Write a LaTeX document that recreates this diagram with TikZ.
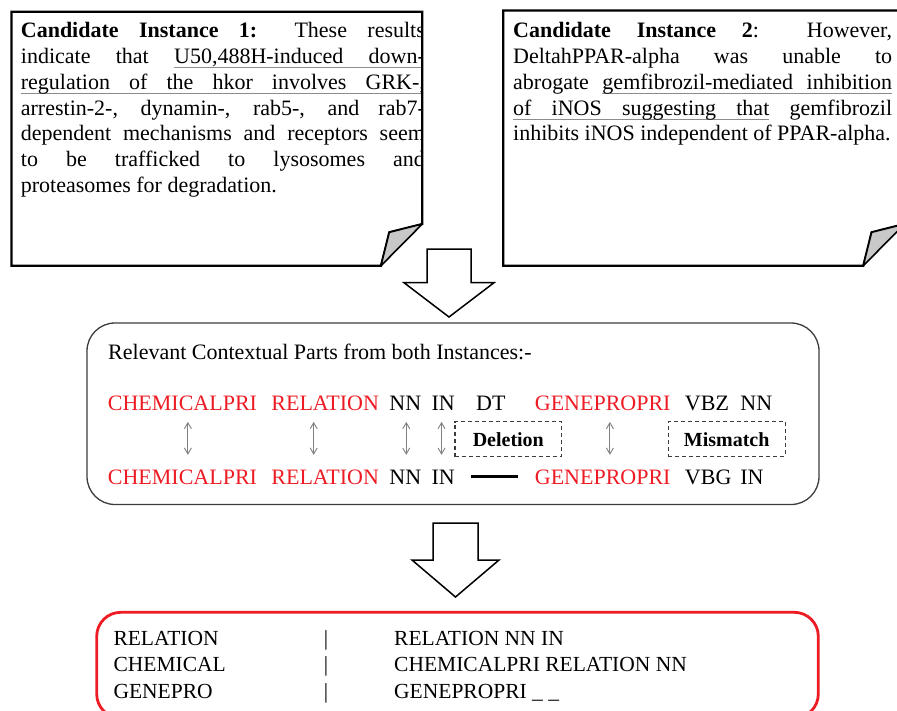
\documentclass[tikz,border=0pt]{standalone}
\usepackage{fontspec}
\setmainfont{Liberation Serif}
\usetikzlibrary{positioning, arrows.meta}

\definecolor{tagred}{RGB}{237,28,36}
\definecolor{foldgray}{RGB}{200,200,200}
\definecolor{ulgray}{RGB}{140,140,140}
\definecolor{ctxgray}{RGB}{60,60,60}

\newcommand{\notefont}{\fontsize{22}{25.9}\selectfont}
\newcommand{\tokfont}{\fontsize{22}{26}\selectfont}
\newcommand{\resfont}{\fontsize{21.5}{26.65}\selectfont}
% gray underlined word and space, one justified line of a note
\newcommand{\ulw}[1]{\setbox0=\hbox{#1}\rlap{\color{ulgray}\rule[-5pt]{\wd0}{1.2pt}}\box0\relax}
\newcommand{\ulsp}{{\color{ulgray}\leaders\hrule height -3.8pt depth 5pt\hskip\fontdimen2\font plus\fontdimen3\font minus\fontdimen4\font}}
\newcommand{\jline}[1]{\makebox[\linewidth][s]{#1}\\}

\begin{document}
\begin{tikzpicture}
        [x=1pt, y=-1pt,
            notebox/.style={draw, line width=2.2pt, line join=miter},
            foldbox/.style={draw, fill=foldgray, line width=1.6pt, line join=round},
            notetext/.style={anchor=base west, inner sep=0pt, align=justify, font=\notefont},
            ctxbox/.style={draw=ctxgray, line width=1.3pt, rounded corners=28pt, minimum width=732pt, minimum height=181.5pt, inner sep=0pt},
            resultbox/.style={draw=tagred, line width=2.8pt, rounded corners=24pt, minimum width=721.6pt, minimum height=105.7pt, inner sep=0pt},
            tok/.style={inner sep=0pt, text height=15pt, text depth=0pt, font=\tokfont},
            redtok/.style={tok, text=tagred},
            tagbox/.style={draw=ctxgray, dashed, dash pattern=on 4pt off 3pt, line width=1.1pt, minimum height=35pt, inner sep=0pt, font=\fontsize{20}{24}\selectfont\bfseries},
            pairlink/.style={{Straight Barb[length=6pt,width=7pt]}-{Straight Barb[length=6pt,width=7pt]}, draw=gray, line width=0.9pt, shorten <=11pt, shorten >=14.3pt},
            gapline/.style={line width=3pt},
            hollowarrow/.style={draw, fill=white, line width=1.5pt, line join=miter},
            restext/.style={anchor=base west, inner sep=0pt, align=left, font=\resfont}
        ]
        \useasboundingbox (0,0) rectangle (897,710);

        % first candidate note
        \begin{scope}
            \clip (11.5,11.7) -- (422.3,11.7) -- (422.3,224) -- (381,265.7) -- (11.5,265.7) -- cycle;
            \node (noteA) [notetext, text width=404pt] at (20.7,37.3) {%
                \jline{\textbf{Candidate Instance 1:} These results}
                \jline{indicate that \ulw{U50,488H-induced}\ulsp\ulw{down-}}
                \jline{\ulw{regulation}\ulsp\ulw{of}\ulsp\ulw{the}\ulsp\ulw{hkor}\ulsp\ulw{involves}\ulsp\ulw{GRK-,}}
                \jline{arrestin-2-, dynamin-, rab5-, and rab7-}
                \jline{dependent mechanisms and receptors seem}
                \jline{to be trafficked to lysosomes and}
                \mbox{proteasomes for degradation.}};
        \end{scope}
        \draw[notebox] (11.5,11.7) -- (422.3,11.7) -- (422.3,224) -- (389.3,232.3) -- (381,265.7) -- (11.5,265.7) -- cycle;
        \filldraw[foldbox] (422.3,224) -- (389.3,232.3) -- (381,265.7) -- cycle;

        % second candidate note
        \node (noteB) [notetext, text width=379pt] at (513,37.3) {%
            \jline{\textbf{Candidate Instance 2}: However,}
            \jline{DeltahPPAR-alpha was unable to}
            \jline{abrogate \ulw{gemfibrozil-mediated}\ulsp\ulw{inhibition}}
            \jline{\ulw{of}\ulsp\ulw{iNOS}\ulsp\ulw{suggesting}\ulsp\ulw{that} gemfibrozil}
            \mbox{inhibits iNOS independent of PPAR-alpha.}};
        \draw[notebox] (503.3,10.5) -- (904.6,10.5) -- (904.6,224) -- (871.6,232.3) -- (863.3,265.7) -- (503.3,265.7) -- cycle;
        \filldraw[foldbox] (904.6,224) -- (871.6,232.3) -- (863.3,265.7) -- cycle;

        \draw[hollowarrow] (427,249) -- (471,249) -- (471,282.7) -- (494,282.7) -- (449,317) -- (404,282.7) -- (427,282.7) -- cycle;

        % contextual parts
        \node (ctx) [ctxbox] at (453,413.75) {};
        \node (title) [anchor=base west, inner sep=0pt, font=\tokfont] at (108,359) {Relevant Contextual Parts from both Instances:-};

        \node (chemA) [redtok, anchor=base west] at (107.7,410.7) {CHEMICALPRI};
        \node (relA) [redtok, base right=14pt of chemA] {RELATION};
        \node (nnA) [tok, base right=10pt of relA] {NN};
        \node (inA) [tok, base right=10pt of nnA] {IN};
        \node (dtA) [tok, base right=21pt of inA] {DT};
        \node (geneA) [redtok, base right=29pt of dtA] {GENEPROPRI};
        \node (vbzA) [tok, base right=14pt of geneA] {VBZ};
        \node (nnB) [tok, base right=11pt of vbzA] {NN};

        \node (chemC) [redtok, anchor=base west] at (107.7,484.3) {CHEMICALPRI};
        \node (relC) [redtok, anchor=base west] at (relA.base west |- chemC.base) {RELATION};
        \node (nnC) [tok, anchor=base west] at (nnA.base west |- chemC.base) {NN};
        \node (inC) [tok, anchor=base west] at (inA.base west |- chemC.base) {IN};
        \node (geneC) [redtok, anchor=base west] at (geneA.base west |- chemC.base) {GENEPROPRI};
        \node (vbgC) [tok, anchor=base west] at (vbzA.base west |- chemC.base) {VBG};
        \node (inD) [tok, anchor=base west] at (nnB.base west |- chemC.base) {IN};

        \coordinate (gapL) at (470.7,476.7);
        \coordinate (gapR) at (518.3,476.7);
        \draw[gapline] (gapL) -- (gapR);

        \node (del) [tagbox, minimum width=106.7pt] at (508.3,439.2) {Deletion};
        \node (mis) [tagbox, minimum width=116.7pt] at (726.7,439.2) {Mismatch};

        \draw[pairlink] ([xshift=5.4pt]chemA.south) -- ([xshift=5.4pt]chemC.north);
        \draw[pairlink] ([xshift=-11.5pt]relA.south) -- ([xshift=-11.5pt]relC.north);
        \draw[pairlink] ([xshift=1pt]nnA.south) -- ([xshift=1pt]nnC.north);
        \draw[pairlink] ([xshift=-1.6pt]inA.south) -- ([xshift=-1.6pt]inC.north);
        \draw[pairlink] ([xshift=7.2pt]geneA.south) -- ([xshift=7.2pt]geneC.north);

        \draw[hollowarrow] (433,523) -- (478,523) -- (478,560) -- (499,560) -- (455.5,597) -- (412,560) -- (433,560) -- cycle;

        % extracted patterns (base is the last line)
        \node (result) [resultbox] at (457.5,665.15) {};
        \node (keys) [restext] at (113.3,698.3) {RELATION\\CHEMICAL\\GENEPRO};
        \node (bars) [restext] at (323.6,698.3) {|\\|\\|};
        \node (vals) [restext] at (394,698.3) {RELATION NN IN\\CHEMICALPRI RELATION NN\\GENEPROPRI \_ \_};
    \end{tikzpicture}
\end{document}
